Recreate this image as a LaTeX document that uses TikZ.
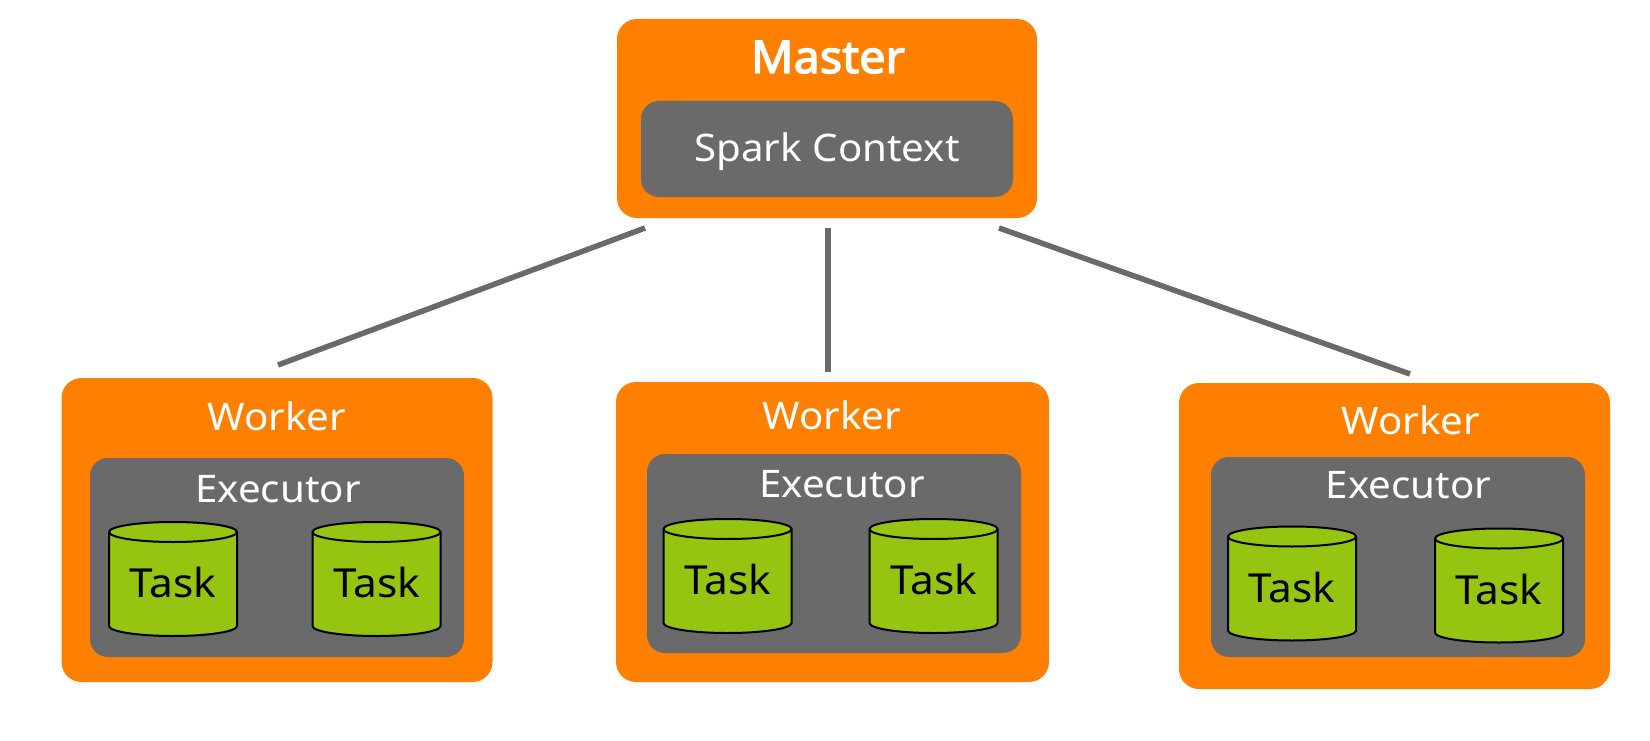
\documentclass[tikz,border=0pt]{standalone}
\usepackage{fontspec}
\setmainfont{Noto Sans}[FakeStretch=1.06]
\newfontfamily\boldsans{Noto Sans}[FakeBold=3, FakeStretch=1.04]
\usetikzlibrary{calc}
\definecolor{sorange}{RGB}{255,128,0}
\definecolor{sgray}{RGB}{106,106,106}
\definecolor{sgreen}{RGB}{149,197,16}
\tikzset{
  orangebox/.style={fill=sorange, rounded corners=20pt, inner sep=0pt},
  graybox/.style={fill=sgray, rounded corners=18pt, inner sep=0pt},
  whitetext/.style={text=white, font=\fontsize{38}{40}\selectfont, anchor=base, inner sep=0pt},
  mastertext/.style={text=white, font=\boldsans\fontsize{45}{48}\selectfont, anchor=base, inner sep=0pt},
  tasktext/.style={text=black, font=\fontsize{40}{42}\selectfont, anchor=base, inner sep=0pt},
  cylstyle/.style={fill=sgreen, draw=black, line width=2pt},
  link/.style={draw=sgray, line width=5.5pt},
}
\newcommand\taskcyl[4]{% name, cx, cy, baseline
  \filldraw[cylstyle] (#2-64,#3-47) -- (#2-64,#3+47)
     arc[start angle=180,end angle=0,x radius=64,y radius=10]
     -- (#2+64,#3-47)
     arc[start angle=0,end angle=-180,x radius=64,y radius=10] -- cycle;
  \draw[cylstyle, fill=none] (#2-64,#3-47) arc[start angle=180,end angle=0,x radius=64,y radius=10];
  \node[tasktext] (#1) at (#2,#4) {Task};
}
\begin{document}
\begin{tikzpicture}[x=1pt,y=-1pt]
\useasboundingbox[fill=white] (0,0) rectangle (1650,741);

% Master
\node[orangebox, minimum width=420pt, minimum height=199pt] (master) at (827,118.5) {};
\node[graybox, minimum width=372pt, minimum height=96pt] (sc) at (827,149) {};
\node[mastertext] (mastert) at (828,73) {Master};
\node[whitetext] (sct) at (827,162) {Spark Context};

% Worker 1
\node[orangebox, minimum width=431pt, minimum height=304pt] (w1) at (277,530) {};
\node[graybox, minimum width=374pt, minimum height=199pt] (e1) at (277,557.5) {};
\node[whitetext] (w1t) at (277,430) {Worker};
\node[whitetext] (e1t) at (278,502) {Executor};
\taskcyl{t11}{173}{579}{597}
\taskcyl{t12}{376.5}{579}{597}

% Worker 2
\node[orangebox, minimum width=433pt, minimum height=300pt] (w2) at (832.5,532) {};
\node[graybox, minimum width=374pt, minimum height=199pt] (e2) at (834,553.5) {};
\node[whitetext] (w2t) at (832,429) {Worker};
\node[whitetext] (e2t) at (842,497) {Executor};
\taskcyl{t21}{727.5}{576}{594}
\taskcyl{t22}{933.5}{576}{594}

% Worker 3
\node[orangebox, minimum width=431pt, minimum height=306pt] (w3) at (1394.5,536) {};
\node[graybox, minimum width=374pt, minimum height=200pt] (e3) at (1398,557) {};
\node[whitetext] (w3t) at (1411,434) {Worker};
\node[whitetext] (e3t) at (1408.5,498) {Executor};
\taskcyl{t31}{1292}{583.5}{602}
\taskcyl{t32}{1499}{585.5}{604}

% connectors
\coordinate (ml) at (645,228);
\coordinate (mm) at (828,228);
\coordinate (mr) at (999,228);
\coordinate (w1c) at (278,365);
\coordinate (w2c) at (828,372);
\coordinate (w3c) at (1410,374);
\draw[link] (ml) -- (w1c);
\draw[link] (mm) -- (w2c);
\draw[link] (mr) -- (w3c);
\end{tikzpicture}
\end{document}
